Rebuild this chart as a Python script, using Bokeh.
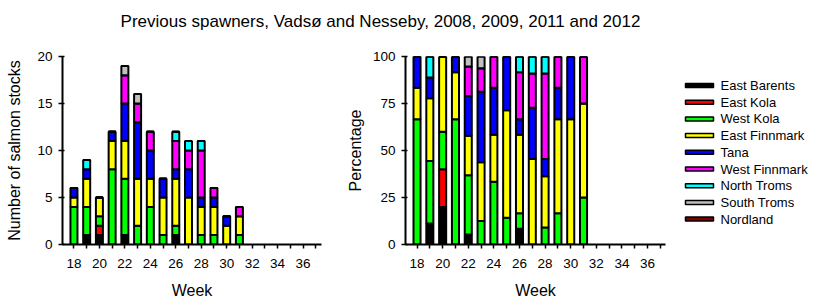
from bokeh.plotting import figure
from bokeh.layouts import column, row
from bokeh.models import Range1d, FixedTicker, ColumnDataSource
from bokeh.embed import file_html
from bokeh.resources import INLINE
from bokeh.core.properties import value

# ---------------- data ----------------
title_text = "Previous spawners, Vadsø and Nesseby, 2008, 2009, 2011 and 2012"
weeks = [18, 19, 20, 21, 22, 23, 24, 25, 26, 27, 28, 29, 30, 31]
categories = ["East Barents", "East Kola", "West Kola", "East Finnmark", "Tana",
              "West Finnmark", "North Troms", "South Troms", "Nordland"]
colors = ["#000000", "#ff0000", "#00ff00", "#ffff00", "#0000ff",
          "#ff00ff", "#00ffff", "#c0c0c0", "#800000"]

east_barents  = [0, 1, 1, 0, 1, 0, 0, 0, 1, 0, 0, 0, 0, 0]
east_kola     = [0, 0, 1, 0, 0, 0, 0, 0, 0, 0, 0, 0, 0, 0]
west_kola     = [4, 3, 1, 8, 6, 2, 4, 1, 1, 0, 1, 1, 0, 1]
east_finnmark = [1, 3, 2, 3, 4, 5, 3, 4, 5, 5, 3, 3, 2, 2]
tana          = [1, 1, 0, 1, 4, 6, 3, 2, 1, 3, 1, 1, 1, 0]
west_finnmark = [0, 0, 0, 0, 3, 2, 2, 0, 3, 2, 5, 1, 0, 1]
north_troms   = [0, 1, 0, 0, 0, 0, 0, 0, 1, 1, 1, 0, 0, 0]
south_troms   = [0, 0, 0, 0, 1, 1, 0, 0, 0, 0, 0, 0, 0, 0]
nordland      = [0, 0, 0, 0, 0, 0, 0, 0, 0, 0, 0, 0, 0, 0]

series = [east_barents, east_kola, west_kola, east_finnmark, tana,
          west_finnmark, north_troms, south_troms, nordland]

x_ticks = [18, 19, 20, 21, 22, 23, 24, 25, 26, 27, 28, 29, 30, 31,
           32, 33, 34, 35, 36, 37]
x_tick_labels = {w: (str(w) if w % 2 == 0 else "") for w in x_ticks}
count_ticks = [0, 5, 10, 15, 20]
pct_ticks = [0, 25, 50, 75, 100]

FONT = "Liberation Sans"
TOP, BOTTOM, FRAME_H = 14, 56, 188

# ---------------- sources ----------------
count_data = {"week": weeks}
for name, vals in zip(categories, series):
    count_data[name] = vals
count_src = ColumnDataSource(count_data)

totals = [sum(v[i] for v in series) for i in range(len(weeks))]
pct_data = {"week": weeks}
for name, vals in zip(categories, series):
    pct_data[name] = [100.0 * v / t if t else 0 for v, t in zip(vals, totals)]
pct_src = ColumnDataSource(pct_data)


def style(p, yticks, ylabel, ylabel_standoff):
    p.outline_line_color = None
    p.xgrid.visible = False
    p.ygrid.visible = False
    p.xaxis.ticker = FixedTicker(ticks=x_ticks)
    p.xaxis.major_label_overrides = x_tick_labels
    p.yaxis.ticker = FixedTicker(ticks=yticks)
    p.xaxis.minor_tick_line_color = None
    p.yaxis.minor_tick_line_color = None
    p.xaxis.axis_label = "Week"
    p.yaxis.axis_label = ylabel
    for ax in (p.xaxis, p.yaxis):
        ax.axis_line_width = 2
        ax.axis_line_color = "black"
        ax.major_tick_line_color = "black"
        ax.major_tick_line_width = 1.5
        ax.major_label_text_font = FONT
        ax.major_label_text_font_size = "13.5px"
        ax.major_label_text_color = "black"
        ax.axis_label_text_font = FONT
        ax.axis_label_text_font_size = "16px"
        ax.axis_label_text_font_style = "normal"
        ax.axis_label_text_color = "black"
    p.xaxis.major_tick_in = 0
    p.xaxis.major_tick_out = 4
    p.xaxis.major_label_standoff = 10
    p.xaxis.axis_label_standoff = 11
    p.yaxis.major_tick_in = 2
    p.yaxis.major_tick_out = 4
    p.yaxis.major_label_standoff = 6
    p.yaxis.axis_label_standoff = ylabel_standoff


# ---------------- title ----------------
tf = figure(width=760, height=42, x_range=Range1d(-1, 1), y_range=Range1d(-1, 1),
            x_axis_location=None, y_axis_location=None, min_border=0, title=None,
            toolbar_location=None, output_backend="svg")
tf.outline_line_color = None
tf.xgrid.visible = False
tf.ygrid.visible = False
tf.text(x=[0], y=[0], text=[title_text], text_align="center", text_baseline="middle",
        text_font=value(FONT), text_font_size="17px", text_color="black")

# ---------------- left: counts ----------------
p1 = figure(frame_width=259, frame_height=FRAME_H, title=None,
            x_range=Range1d(17.1, 37.45), y_range=Range1d(0, 20),
            min_border_left=62, min_border_right=19, min_border_top=TOP, min_border_bottom=BOTTOM,
            toolbar_location=None, output_backend="svg")
p1.vbar_stack(categories, x="week", width=0.55, source=count_src,
              fill_color=colors, line_color="black", line_width=2)
style(p1, count_ticks, "Number of salmon stocks", 11)

# ---------------- right: percentage ----------------
p2 = figure(frame_width=260, frame_height=FRAME_H, title=None,
            x_range=Range1d(17.1, 37.4), y_range=Range1d(0, 100),
            min_border_left=65, min_border_right=15, min_border_top=TOP, min_border_bottom=BOTTOM,
            toolbar_location=None, output_backend="svg")
p2.vbar_stack(categories, x="week", width=0.55, source=pct_src,
              fill_color=colors, line_color="black", line_width=2)
style(p2, pct_ticks, "Percentage", 6)

# ---------------- legend (own panel, rows from category order) ----------------
ROW_H, FIRST = 16.7, 29
leg_src = ColumnDataSource({
    "name": categories,
    "color": colors,
    "y": [FIRST + ROW_H * i for i in range(len(categories))],
})
pl = figure(frame_width=134, frame_height=FRAME_H, title=None,
            x_range=Range1d(0, 134), y_range=Range1d(FRAME_H, 0),
            x_axis_location=None, y_axis_location=None,
            min_border_left=0, min_border_right=0, min_border_top=TOP, min_border_bottom=BOTTOM,
            toolbar_location=None, output_backend="svg")
pl.outline_line_color = None
pl.xgrid.visible = False
pl.ygrid.visible = False
pl.rect(x=19, y="y", width=28, height=4, width_units="screen", height_units="screen",
        fill_color="color", line_color="black", line_width=1.5, source=leg_src)
pl.text(x=40, y="y", text="name", text_baseline="middle", text_align="left",
        text_font=value(FONT), text_font_size="13px", text_color="black", source=leg_src)

layout = column(tf, row(p1, p2, pl))

open("out.html", "w").write(file_html(layout, INLINE))
